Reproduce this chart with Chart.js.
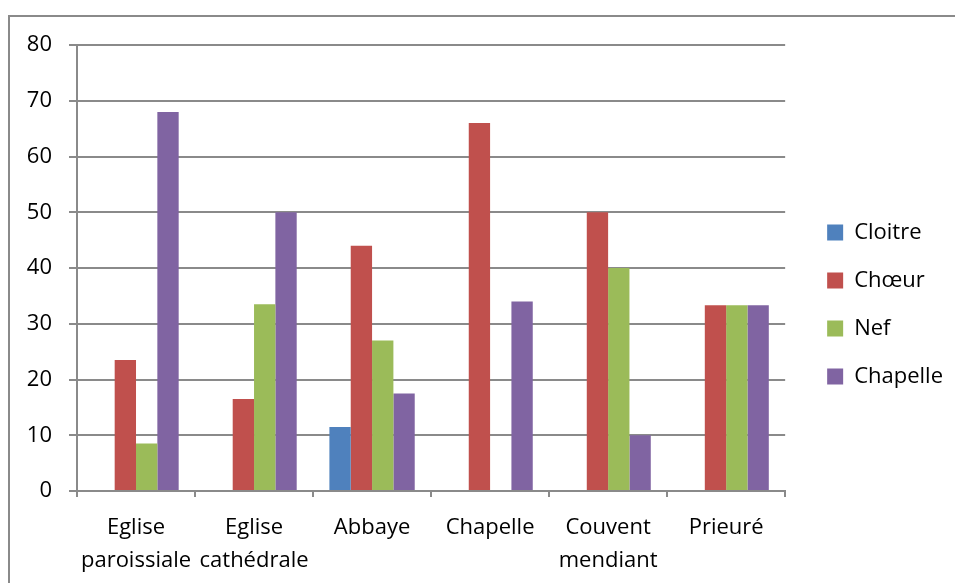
<!DOCTYPE html>
<html lang="fr">
<head>
    <meta charset="UTF-8">
    <title>Répartition</title>
    <script src="https://cdn.jsdelivr.net/npm/chart.js"></script>
    <style>
        body { margin: 0; overflow: hidden; background: #fff; }
        #cadre { position: absolute; left: 8px; top: 15px; width: 1200px; height: 1000px; border: 2px solid #8a8a8a; }
        #zone { position: absolute; left: 0; top: 0; width: 955px; height: 606px; }
    </style>
</head>
<body>
    <div id="cadre"></div>
    <div id="zone"><canvas id="grafico"></canvas></div>
<script>
    // categories et series
    const categories = [
        ["Eglise", "paroissiale"],
        ["Eglise", "cathédrale"],
        "Abbaye",
        "Chapelle",
        ["Couvent", "mendiant"],
        "Prieuré"
    ];
    const cloitre  = [0, 0, 11.5, 0, 0, 0];
    const choeur   = [23.5, 16.5, 44, 66, 50, 33.3];
    const nef      = [8.5, 33.5, 27, 0, 40, 33.3];
    const chapelle = [68, 50, 17.5, 34, 10, 33.3];
    const yTicks = [0, 10, 20, 30, 40, 50, 60, 70, 80];

    const gris = "#8a8a8a";
    const police = "'Open Sans'";

    // decale la legende comme dans l'original
    const decaleLegende = {
        id: "decaleLegende",
        afterLayout(chart) {
            const lg = chart.legend;
            lg.left += 16; lg.right += 16;
            lg.top -= 21; lg.bottom -= 21;
        }
    };

    const ctx = document.getElementById("grafico").getContext("2d");
    const chart = new Chart(ctx, {
        type: "bar",
        data: {
            labels: categories,
            datasets: [
                { label: "Cloitre", data: cloitre, backgroundColor: "#4F81BD" },
                { label: "Chœur", data: choeur, backgroundColor: "#C0504D" },
                { label: "Nef", data: nef, backgroundColor: "#9BBB59" },
                { label: "Chapelle", data: chapelle, backgroundColor: "#8064A2" }
            ]
        },
        plugins: [decaleLegende],
        options: {
            responsive: true,
            maintainAspectRatio: false,
            animation: false,
            layout: { padding: { top: 45, left: 0, right: 18, bottom: 0 } },
            datasets: { bar: { categoryPercentage: 0.723, barPercentage: 1.0 } },
            plugins: {
                tooltip: { enabled: false },
                legend: {
                    position: "right",
                    labels: {
                        boxWidth: 16,
                        boxHeight: 16,
                        padding: 26,
                        color: "#000",
                        font: { family: police, size: 22 }
                    }
                }
            },
            scales: {
                x: {
                    offset: true,
                    afterFit: (s) => { s.height = 606 - 491; },
                    grid: { display: true, drawOnChartArea: false, drawTicks: true, offset: true, tickLength: 6, color: gris, lineWidth: 2 },
                    border: { display: true, color: gris, width: 2 },
                    ticks: { color: "#000", maxRotation: 0, autoSkip: false, padding: 14, font: { family: police, size: 22, lineHeight: 1.5 } }
                },
                y: {
                    min: 0,
                    max: 80,
                    afterFit: (s) => { s.width = 77; },
                    afterBuildTicks: (s) => { s.ticks = yTicks.map(v => ({ value: v })); },
                    grid: { color: gris, lineWidth: 2, tickLength: 8 },
                    border: { display: true, color: gris, width: 2 },
                    ticks: { color: "#000", padding: 17, font: { family: police, size: 22 } }
                }
            }
        }
    });
</script>
</body>
</html>
